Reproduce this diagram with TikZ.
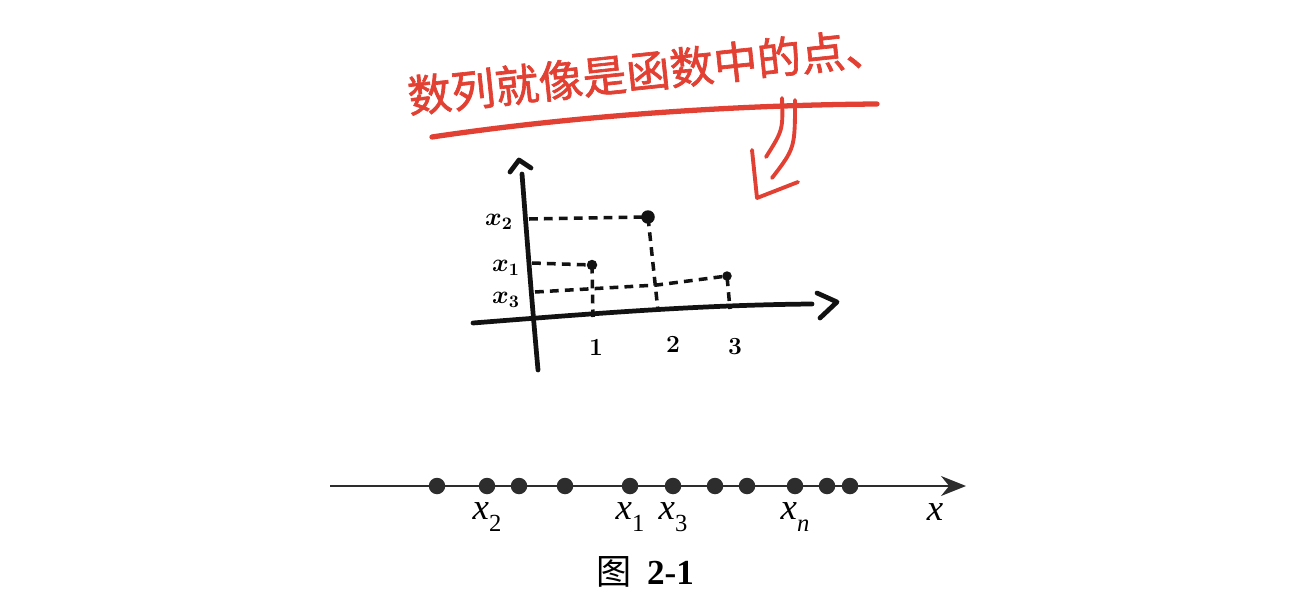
\documentclass[tikz,border=0pt]{standalone}
\usepackage{fontspec}
\usetikzlibrary{arrows.meta,positioning}
\newfontfamily\cjk{Noto Sans CJK SC}
\newfontfamily\cjkhand[FakeBold=1.5]{Noto Sans CJK SC}
\newfontfamily\timesfont{Liberation Serif}
\definecolor{InkRed}{RGB}{226,64,50}
\definecolor{InkBlack}{RGB}{18,18,18}
\definecolor{DotGray}{RGB}{45,45,45}
\newcommand{\xlab}[1]{\timesfont\textit{x}\raisebox{-0.32em}{\fontsize{14}{14}\selectfont #1}}

\begin{document}
\begin{tikzpicture}[x=0.02cm,y=-0.02cm,
  seqdot/.style={circle,fill=DotGray,inner sep=0pt,minimum size=3.3mm},
  fdot/.style={circle,fill=InkBlack,inner sep=0pt,minimum size=2.1mm},
  lbl/.style={anchor=base,inner sep=0pt,font=\fontsize{21}{21}\selectfont},
  hand/.style={inner sep=0pt,font=\fontsize{14}{14}\selectfont\bfseries\boldmath},
  haxis/.style={InkBlack,line width=2.7pt,line cap=round,line join=round},
  guide/.style={InkBlack,line width=2pt,dash pattern=on 5pt off 3.5pt},
  redink/.style={InkRed,line width=2.2pt,line cap=round,line join=round}]
\useasboundingbox (0,0) rectangle (1291,608);

% red note
\node[InkRed,rotate=6,inner sep=0pt,font=\cjkhand\fontsize{25}{25}\selectfont] (note) at (648,71) {数列就像是函数中的点、};
\coordinate (ulL) at (432,137);
\coordinate (ulR) at (877,104);
\draw[redink,line width=3pt] (ulL) .. controls (580,115) and (740,105) .. (ulR);
\draw[redink] (782,98) .. controls (783,130) .. (766,157);
\draw[redink] (795,100) .. controls (795,148) .. (772,178);
\draw[redink] (752,150) -- (757,198) -- (798,182);

% sketch
\coordinate (yB) at (538,370);
\coordinate (yT) at (522,174);
\coordinate (xL) at (473,323);
\coordinate (xR) at (812,304);
\draw[haxis] (yB) .. controls (531,290) .. (yT);
\draw[haxis] (510,172) -- (519,160) -- (531,168);
\draw[haxis] (xL) .. controls (600,313) and (700,305) .. (xR);
\draw[haxis] (817,293) -- (837,302) -- (820,318);

\node[fdot,minimum size=2.7mm] (p2) at (648,217) {};
\node[fdot] (p1) at (592,265) {};
\node[fdot,minimum size=1.9mm] (p3) at (727,276) {};
\draw[guide] (529,219) -- (p2.center) -- (658,311);
\draw[guide] (532,263) -- (p1.center) -- (593,317);
\draw[guide] (535,292) -- (657,285) -- (p3.center) -- (730,309);

\node[hand] (h2) at (499,222) {$x_2$};
\node[hand] (h1) at (506,268) {$x_1$};
\node[hand] (h3) at (506,300) {$x_3$};
\node[hand] (n1) at (596,347) {1};
\node[hand] (n2) at (673,344) {2};
\node[hand] (n3) at (735,347) {3};

% number line
\coordinate (nlL) at (330,486);
\coordinate (nlR) at (966,486);
\draw[DotGray,line width=0.9pt,-{Stealth[length=5mm,width=4mm]}] (nlL) -- (nlR);
\foreach \px [count=\i] in {437,487,519,565,630,673,715,747,795,827,850}
  \node[seqdot] (d\i) at (\px,486) {};
\node[lbl] (l2) at ([yshift=-6.8mm]d2) {\xlab{2}};
\node[lbl] (l1) at ([yshift=-6.8mm]d5) {\xlab{1}};
\node[lbl] (l3) at ([yshift=-6.8mm]d6) {\xlab{3}};
\node[lbl] (ln) at ([yshift=-6.8mm]d9) {\xlab{\textit{n}}};
\node[lbl] (lx) at (935,520) {\timesfont\textit{x}};

\node[inner sep=0pt,font=\fontsize{20}{20}\selectfont] (cap) at (645,572) {{\cjk 图}\hspace{0.45em}{\timesfont\bfseries 2-1}};
\end{tikzpicture}
\end{document}
